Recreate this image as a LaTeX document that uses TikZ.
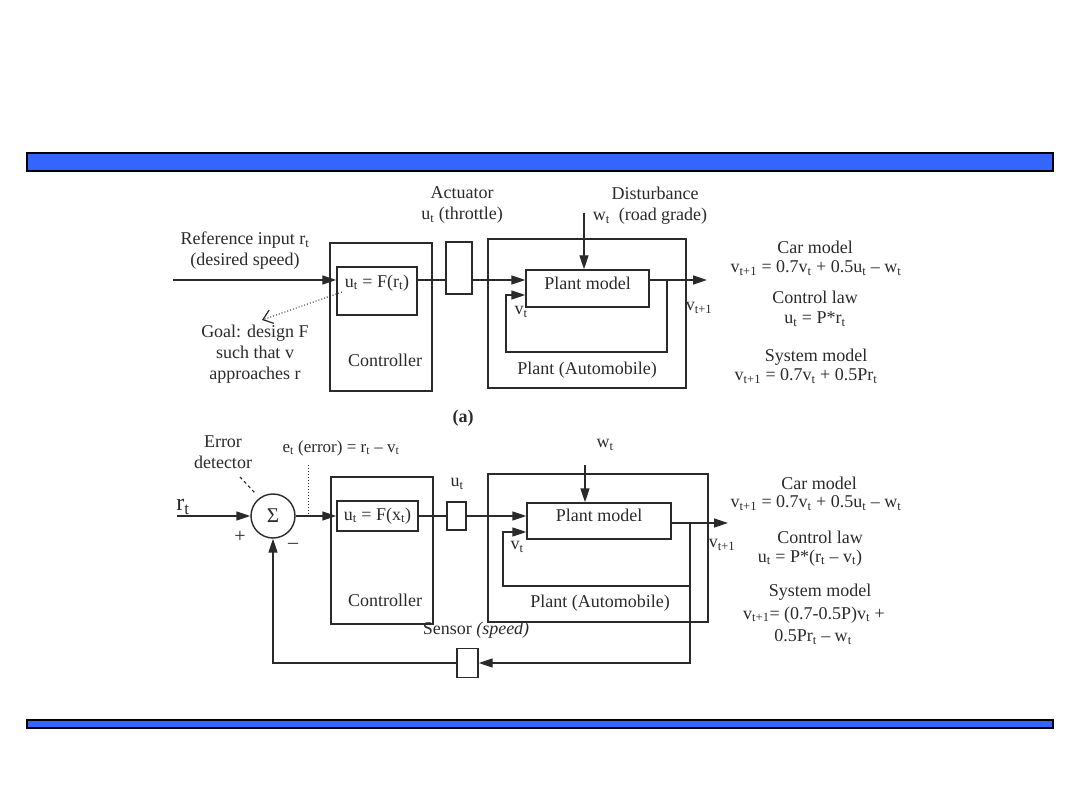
\documentclass[tikz,border=0pt]{standalone}
\usepackage{fontspec}
\setmainfont{Liberation Serif}
\usetikzlibrary{arrows.meta,calc}
\newcommand{\tsub}[1]{\textsubscript{#1}}
\definecolor{ink}{HTML}{2A2A2A}
\definecolor{barblue}{HTML}{3366FF}
\begin{document}
\begin{tikzpicture}[x=1pt,y=-1pt,
  ln/.style={draw=ink, line width=1.4pt},
  arr/.style={ln, -{Triangle[length=14pt,width=9pt]}},
  blk/.style={draw=ink, line width=1.4pt, inner sep=0, rectangle},
  txt/.style={font=\fontsize{18}{21}\selectfont, text=ink, inner sep=0, align=center},
  stxt/.style={font=\fontsize{17}{20}\selectfont, text=ink, inner sep=0, align=center}
]
\useasboundingbox (0,0) rectangle (1080,810);
% bars
\draw[fill=barblue, draw=black, line width=2.5pt] (27,153) rectangle (1053,171);
\draw[fill=barblue, draw=black, line width=2.5pt] (27,720) rectangle (1053,728);

% ================= TOP DIAGRAM =================
\node[blk, minimum width=102, minimum height=148] (ctrl1) at (381,317) {};
\node[blk, minimum width=80, minimum height=48] (fbox1) at (377,291) {};
\node[txt] (ftxt1) at (377,283) {u\tsub{t} = F(r\tsub{t})};
\node[txt] (ctrllab1) at (385,360) {Controller};
\node[blk, minimum width=26, minimum height=52] (act1) at (459,268) {};
\node[blk, minimum width=198, minimum height=149] (plant1) at (587,313.5) {};
\node[blk, minimum width=123, minimum height=37] (pm1) at (587.5,288.5) {};
\node[txt] (pmtxt1) at (587.5,283) {Plant model};
\node[txt] (plantlab1) at (587,370) {Plant (Automobile)};

\node[txt] (reflab) at (245,251) {Reference input r\tsub{t}\\(desired speed)};
\node[txt] (goal) at (255,354) {Goal: design F\\such that v\\approaches r};
\node[txt] (actlab) at (462,205) {Actuator\\u\tsub{t} (throttle)};
\node[txt] (distlab) at (650,206) {\hspace*{10pt}Disturbance\\w\tsub{t}\ \ (road grade)};
\node[txt] (vt1) at (521,312) {v\tsub{t}};
\node[txt] (vtp1) at (699,308) {v\tsub{t+1}};

\coordinate (in1) at (173,280);
\coordinate (out1) at (707,280);
\coordinate (fb1) at (667,280);
\coordinate (fb1a) at (667,352);
\coordinate (fb1b) at (506,352);
\coordinate (fb1c) at (506,295);
\coordinate (dist1) at (584,213);
\coordinate (goalstart) at (342,292);
\coordinate (goalend) at (262,320);

\draw[arr] (in1) -- (in1 -| fbox1.west);
\draw[ln] (fbox1.east |- in1) -- (act1.west |- in1);
\draw[arr] (act1.east |- in1) -- (pm1.west |- in1);
\draw[arr] (pm1.east |- in1) -- (out1);
\draw[arr] (fb1) -- (fb1a) -- (fb1b) -- (fb1c) -- (fb1c -| pm1.west);
\draw[arr] (dist1) -- (dist1 |- pm1.north);
\draw[ink, line width=1pt, dotted, -{Straight Barb[length=9pt,width=14pt,line width=1.2pt]}] (goalstart) -- (goalend);

% right texts top
\node[txt] (car1) at (815,247) {Car model};
\node[txt] (careq1) at (816,268) {v\tsub{t+1} = 0.7v\tsub{t} + 0.5u\tsub{t} – w\tsub{t}};
\node[txt] (cl1) at (815,297) {Control law};
\node[txt] (cleq1) at (815,319) {u\tsub{t} = P*r\tsub{t}};
\node[txt] (sm1) at (816,357) {System model};
\node[txt] (smeq1) at (806,376) {v\tsub{t+1} = 0.7v\tsub{t} + 0.5Pr\tsub{t}};

\node[font=\fontsize{18}{20}\selectfont\bfseries, text=ink, inner sep=0] (alab) at (463,418) {(a)};

% ================= BOTTOM DIAGRAM =================
\node[draw=ink, line width=1.4pt, circle, minimum size=44, inner sep=0, font=\fontsize{21}{22}\selectfont, text=ink] (sum) at (273,516) {Σ};
\node[blk, minimum width=102, minimum height=147] (ctrl2) at (382,550.5) {};
\node[blk, minimum width=81, minimum height=30, font=\fontsize{18}{20}\selectfont, text=ink] (fbox2) at (377.5,516) {u\tsub{t} = F(x\tsub{t})};
\node[txt] (ctrllab2) at (385,600) {Controller};
\node[blk, minimum width=19, minimum height=28] (ubox) at (456.5,516) {};
\node[blk, minimum width=220, minimum height=148] (plant2) at (598,548) {};
\node[blk, minimum width=144, minimum height=36] (pm2) at (599,521) {};
\node[txt] (pmtxt2) at (599,515) {Plant model};
\node[txt] (plantlab2) at (600,603) {Plant (Automobile)};
\node[blk, minimum width=21, minimum height=29] (sensor) at (467.5,663) {};

\node[font=\fontsize{24}{26}\selectfont, text=ink, inner sep=0] (rt) at (183,507) {r\tsub{t}};
\node[txt] (errdet) at (223,452) {Error\\detector};
\node[stxt] (errlab) at (341,448) {e\tsub{t} (error) = r\tsub{t} – v\tsub{t}};
\node[font=\fontsize{20}{22}\selectfont, text=ink, inner sep=0] (plus) at (240,537) {+};
\node[font=\fontsize{20}{22}\selectfont, text=ink, inner sep=0] (minus) at (293,546) {–};
\node[txt] (utlab) at (457,484) {u\tsub{t}};
\node[txt] (wtlab) at (605,445) {w\tsub{t}};
\node[txt] (vt2) at (517,547) {v\tsub{t}};
\node[txt] (vtp2) at (722,545) {v\tsub{t+1}};
\node[txt] (senslab) at (476,630) {Sensor \textit{(speed)}};

\coordinate (in2) at (177,516);
\coordinate (out2) at (728,523);
\coordinate (fb2) at (690,523);
\coordinate (fb2a) at (690,586);
\coordinate (fb2b) at (503,586);
\coordinate (fb2c) at (503,532);
\coordinate (dist2) at (585,465);
\coordinate (et) at (308,465);
\coordinate (edstart) at (240,477);
\coordinate (edend) at (255,493);

\draw[arr] (in2) -- (sum.west);
\draw[arr] (sum.east) -- (fbox2.west);
\draw[ln] (fbox2.east) -- (ubox.west);
\draw[arr] (ubox.east) -- (ubox.east -| pm2.west);
\draw[arr] (out2 -| pm2.east) -- (out2);
\draw[arr] (fb2) -- (fb2a) -- (fb2b) -- (fb2c) -- (fb2c -| pm2.west);
\draw[arr] (fb2a) -- (fb2a |- sensor) -- (sensor.east);
\draw[arr] (sensor.west) -- (sensor.west -| sum.south) -- (sum.south);
\draw[arr] (dist2) -- (dist2 |- pm2.north);
\draw[ink, line width=1pt, dotted] (et) -- (et |- sum.east);
\draw[ink, line width=1.2pt, dashed] (edstart) -- (edend);

% right texts bottom
\node[txt] (car2) at (819,483) {Car model};
\node[txt] (careq2) at (816,503) {v\tsub{t+1} = 0.7v\tsub{t} + 0.5u\tsub{t} – w\tsub{t}};
\node[txt] (cl2) at (820,537) {Control law};
\node[txt] (cleq2) at (810,558) {u\tsub{t} = P*(r\tsub{t} – v\tsub{t})};
\node[txt] (sm2) at (820,592) {System model};
\node[txt] (smeq2) at (814,615) {v\tsub{t+1}= (0.7-0.5P)v\tsub{t} +};
\node[txt] (smeq2b) at (813,637) {0.5Pr\tsub{t} – w\tsub{t}};
\end{tikzpicture}
\end{document}
